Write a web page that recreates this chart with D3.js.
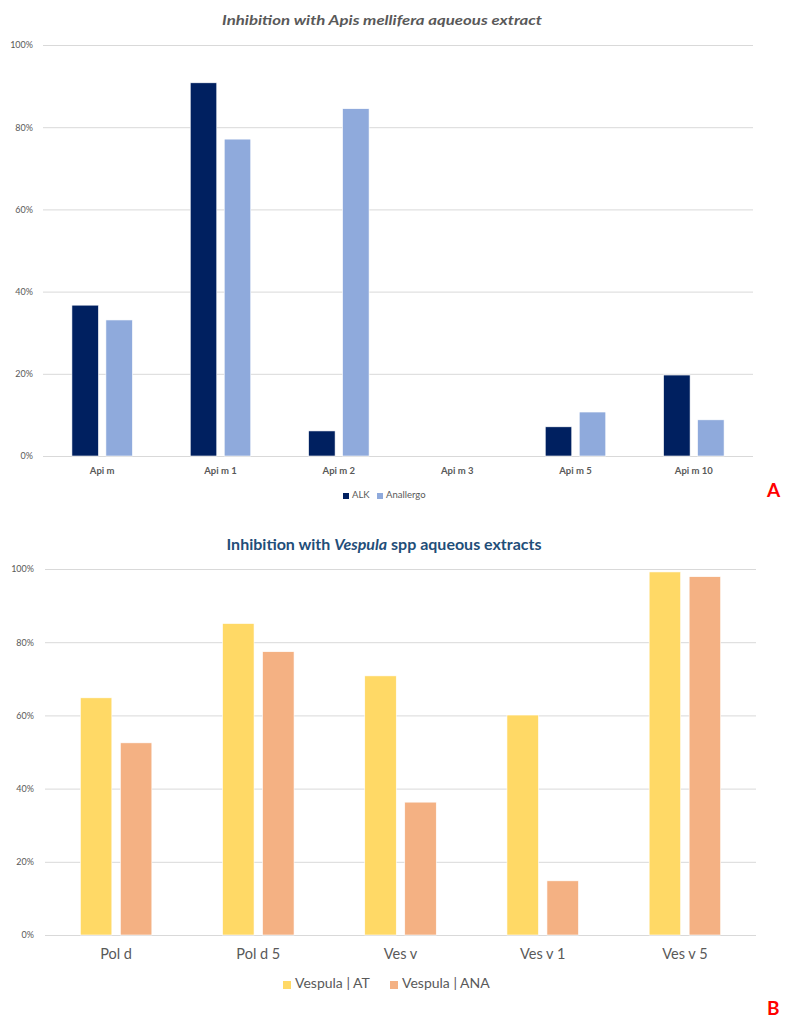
<!DOCTYPE html>
<html>
<head>
<meta charset="utf-8">
<script src="https://cdn.jsdelivr.net/npm/d3@7"></script>
<style>
  html, body { margin: 0; padding: 0; background: #fff; }
  svg { display: block; font-family: Lato, "Open Sans", sans-serif; }
</style>
</head>
<body>
<svg id="chart" width="787" height="1023"></svg>
<script>
// ---------- Data ----------
const apisCategories = ["Api m", "Api m 1", "Api m 2", "Api m 3", "Api m 5", "Api m 10"];
const apisSeries = ["ALK", "Anallergo"];
const alkValues = [0.367, 0.908, 0.061, 0, 0.071, 0.197];
const anallergoValues = [0.331, 0.771, 0.845, 0, 0.107, 0.088];

const vespCategories = ["Pol d", "Pol d 5", "Ves v", "Ves v 1", "Ves v 5"];
const vespSeries = ["Vespula | AT", "Vespula | ANA"];
const atValues = [0.648, 0.851, 0.708, 0.601, 0.992];
const anaValues = [0.525, 0.774, 0.363, 0.148, 0.979];

const yTicks = [0, 0.2, 0.4, 0.6, 0.8, 1.0];

// ---------- Drawing ----------
const svg = d3.select("#chart");
const grey = "#595959";
const fmt = d3.format(".0%");

function drawPanel(cfg) {
  const g = svg.append("g");
  const y = d3.scaleLinear().domain([0, 1]).range([cfg.y0, cfg.y1]);
  const x0 = d3.scaleBand().domain(cfg.categories).range([cfg.xl, cfg.xr]).padding(0);
  const off = (x0.bandwidth() - cfg.groupW) / 2;
  const x1 = d3.scaleBand().domain(cfg.series).range([off, off + cfg.groupW])
    .paddingInner(cfg.innerPad).paddingOuter(0);
  const color = d3.scaleOrdinal().domain(cfg.series).range(cfg.colors);

  // gridlines
  const yAxis = d3.axisLeft(y).tickValues(yTicks).tickFormat(fmt)
    .tickSize(-(cfg.xr - cfg.xl)).tickPadding(cfg.xl - cfg.labelRight);
  const ya = g.append("g").attr("transform", `translate(${cfg.xl},0)`).call(yAxis);
  ya.select(".domain").remove();
  ya.selectAll(".tick line").attr("stroke", "#D9D9D9").attr("stroke-width", 1);
  ya.selectAll(".tick text").attr("fill", grey).attr("font-size", cfg.yFont)
    .attr("font-family", "Lato, sans-serif");

  // bars
  const rows = cfg.categories.map((c, i) => ({ cat: c, vals: cfg.series.map((s, j) => ({ s, v: cfg.values[j][i] })) }));
  const grp = g.selectAll("g.cat").data(rows).join("g")
    .attr("transform", d => `translate(${x0(d.cat)},0)`);
  grp.selectAll("rect").data(d => d.vals.filter(o => o.v > 0)).join("rect")
    .attr("x", d => x1(d.s))
    .attr("width", x1.bandwidth())
    .attr("y", d => y(d.v))
    .attr("height", d => y(0) - y(d.v))
    .attr("fill", d => color(d.s))
    .attr("stroke", "#ffffff").attr("stroke-width", 0.6);

  // x axis labels
  const xAxis = d3.axisBottom(x0).tickSize(0).tickPadding(cfg.xLabelPad);
  const xa = g.append("g").attr("transform", `translate(0,${cfg.y0})`).call(xAxis);
  xa.select(".domain").remove();
  xa.selectAll(".tick text").attr("fill", grey).attr("font-size", cfg.xFont)
    .attr("font-weight", cfg.xWeight).attr("font-family", "Lato, sans-serif");

  // legend
  const lg = g.append("g");
  cfg.series.forEach((s, i) => {
    const lx = cfg.legendX[i];
    lg.append("rect").attr("x", lx).attr("y", cfg.legendY - cfg.sq + 1)
      .attr("width", cfg.sq).attr("height", cfg.sq).attr("fill", color(s));
    lg.append("text").attr("x", lx + cfg.sq + cfg.legGap).attr("y", cfg.legendY)
      .attr("fill", grey).attr("font-size", cfg.legFont).text(s);
  });
}

// Panel A
drawPanel({
  categories: apisCategories, series: apisSeries, values: [alkValues, anallergoValues],
  colors: ["#002060", "#8FAADC"],
  xl: 43, xr: 753, y0: 456, y1: 45, labelRight: 33,
  groupW: 60.5, innerPad: 0.22,
  yFont: 9, xFont: 9.5, xWeight: 700, xLabelPad: 11,
  legendX: [343, 377], legendY: 498, sq: 6, legGap: 3, legFont: 9.5
});

// Panel B
drawPanel({
  categories: vespCategories, series: vespSeries, values: [atValues, anaValues],
  colors: ["#FFD966", "#F4B183"],
  xl: 45, xr: 756, y0: 935, y1: 569, labelRight: 34,
  groupW: 71.5, innerPad: 0.2125,
  yFont: 9, xFont: 14.5, xWeight: 400, xLabelPad: 14,
  legendX: [283, 390], legendY: 988, sq: 8, legGap: 4, legFont: 14
});

// Titles
svg.append("text").attr("x", 382).attr("y", 25).attr("text-anchor", "middle")
  .attr("fill", grey).attr("font-size", 14).attr("font-weight", 700).attr("font-style", "italic")
  .attr("textLength", 320).attr("lengthAdjust", "spacingAndGlyphs")
  .text("Inhibition with Apis mellifera aqueous extract");

const tB = svg.append("text").attr("x", 384).attr("y", 550).attr("text-anchor", "middle")
  .attr("fill", "#1F4E79").attr("font-size", 15.5).attr("font-weight", 700)
  .attr("textLength", 315).attr("lengthAdjust", "spacingAndGlyphs");
tB.append("tspan").text("Inhibition with ");
tB.append("tspan").attr("font-style", "italic").text("Vespula");
tB.append("tspan").text(" spp aqueous extracts");

// Panel letters
svg.append("text").attr("x", 767).attr("y", 497).attr("fill", "#FF0000")
  .attr("font-size", 19).attr("font-weight", 700).text("A");
svg.append("text").attr("x", 767).attr("y", 1015).attr("fill", "#FF0000")
  .attr("font-size", 19).attr("font-weight", 700).text("B");
</script>
</body>
</html>
